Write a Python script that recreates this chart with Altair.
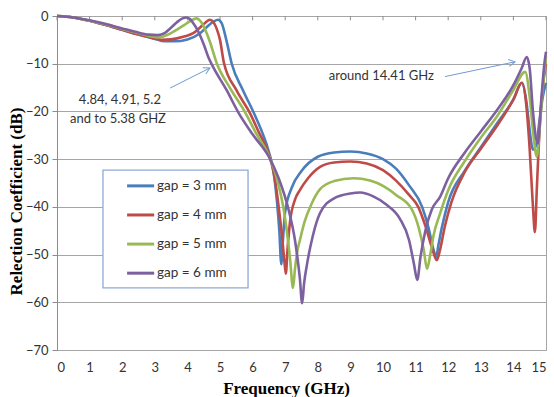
import altair as alt
import pandas as pd

# ---------------- data ----------------
f3 = [0, 0.5, 1.0, 1.5, 2.0, 2.5, 3.0, 3.3, 3.6, 4.0, 4.39, 4.6, 4.8, 4.94, 5.05, 5.2, 5.36, 5.7, 6.05,
      6.3, 6.5, 6.65, 6.75, 6.82, 6.88, 6.93, 7.0, 7.2, 7.5, 8.0, 8.5, 9.0, 9.5, 10.0, 10.4, 10.8, 11.2,
      11.4, 11.55, 11.63, 11.7, 11.8, 12.0, 12.5, 13.0, 13.5, 14.0, 14.26, 14.4, 14.5, 14.6, 14.7, 14.8,
      14.9, 15.0]
v3 = [0, -0.3, -1.0, -1.9, -2.9, -3.9, -4.8, -5.3, -5.3, -4.9, -3.6, -2.3, -1.2, -0.8, -1.5, -5.2, -10.0,
      -15.5, -20.5, -24.5, -28.5, -33, -39, -45, -52, -47, -41, -36, -32.5, -29.5, -28.6, -28.4, -28.8,
      -30, -32, -35.5, -40, -44.5, -49, -50.5, -48, -44.5, -39, -32.5, -27.5, -22.5, -17.5, -14, -18, -24,
      -28, -27, -22, -17, -14]

f4 = [0, 0.5, 1.0, 1.5, 2.0, 2.5, 3.0, 3.2, 3.5, 3.9, 4.18, 4.39, 4.55, 4.69, 4.8, 4.9, 5.0, 5.12, 5.5,
      5.93, 6.2, 6.5, 6.68, 6.8, 6.9, 6.97, 7.02, 7.07, 7.15, 7.3, 7.45, 7.7, 8.07, 8.5, 9.0, 9.5, 10.0,
      10.4, 10.8, 11.08, 11.3, 11.5, 11.65, 11.75, 11.9, 12.1, 12.5, 13.0, 13.5, 14.0, 14.26, 14.4, 14.5,
      14.6, 14.66, 14.72, 14.8, 14.9, 15.0]
v4 = [0, -0.3, -1.0, -1.9, -2.9, -3.9, -4.7, -5.0, -4.9, -4.3, -3.6, -2.4, -1.4, -0.8, -1.3, -2.7, -5.0,
      -9.8, -15.5, -20.5, -24.5, -29, -34, -40, -46, -51, -54, -49, -43, -38.5, -36.5, -34, -31.6, -30.7,
      -30.5, -30.9, -32.3, -34.5, -37.5, -40, -44, -48.5, -51.2, -49, -44, -39, -32.8, -27.8, -23, -17.5,
      -14, -19, -28, -40, -45.3, -36, -24, -15, -10]

f5 = [0, 0.5, 1.0, 1.5, 2.0, 2.5, 2.9, 3.1, 3.47, 3.67, 3.9, 4.1, 4.28, 4.38, 4.48, 4.58, 4.69, 4.9, 5.3,
      5.78, 6.1, 6.5, 6.7, 6.85, 6.94, 7.05, 7.15, 7.24, 7.3, 7.38, 7.45, 7.6, 7.8, 8.07, 8.5, 9.1, 9.6,
      10.0, 10.4, 10.88, 11.1, 11.25, 11.35, 11.45, 11.55, 11.75, 12.0, 12.5, 13.0, 13.5, 14.0, 14.36,
      14.5, 14.6, 14.72, 14.8, 14.9, 15.0]
v5 = [0, -0.3, -1.0, -1.8, -2.7, -3.6, -4.3, -4.5, -3.7, -2.9, -1.9, -1.0, -0.5, -0.9, -1.9, -3.4, -5.4,
      -9.9, -15, -20.3, -24.5, -29.3, -33, -37, -40, -45, -51, -57, -53, -49, -47, -43, -39.5, -36.3,
      -34.6, -34, -34.5, -35.6, -37.5, -40.5, -44.5, -49, -53, -50, -46, -41.4, -36.5, -30.5, -25.5, -21,
      -15.5, -11.7, -17, -24, -29.5, -24, -15, -8.5]

f6 = [0, 0.5, 1.0, 1.5, 2.0, 2.4, 2.8, 3.1, 3.3, 3.47, 3.68, 3.85, 3.96, 4.07, 4.18, 4.3, 4.39, 4.52, 4.64,
      4.8, 5.2, 5.57, 6.0, 6.5, 6.8, 7.1, 7.3, 7.45, 7.52, 7.58, 7.67, 7.85, 8.07, 8.5, 9.0, 9.3, 9.7,
      10.1, 10.52, 10.8, 10.95, 11.05, 11.15, 11.3, 11.5, 11.75, 12.0, 12.5, 13.0, 13.5, 14.0, 14.25,
      14.41, 14.5, 14.6, 14.75, 14.85, 14.95, 15.0]
v6 = [0, -0.3, -0.9, -1.7, -2.6, -3.3, -3.9, -4.0, -3.6, -2.6, -1.3, -0.5, -0.3, -0.6, -1.5, -2.8, -4.1,
      -6.3, -8.6, -10.8, -15.5, -20.3, -24.8, -29.5, -34, -40.5, -47, -55, -60.2, -56, -52, -46, -41.3,
      -38.2, -37.2, -37, -37.8, -39.5, -42.5, -47, -52, -55.3, -50.5, -45, -40.5, -37.9, -34, -28.7, -24.2,
      -19.7, -14.5, -11, -8.6, -11, -20, -26.7, -18, -10, -7.5]

series_names = ["gap = 3 mm", "gap = 4 mm", "gap = 5 mm", "gap = 6 mm"]
series_colors = ["#4a7ebb", "#be4b48", "#98b954", "#7d60a0"]
x_ticks = list(range(0, 16))
y_ticks = list(range(-70, 1, 10))

ann_texts = ["4.84, 4.91, 5.2", "and to 5.38 GHZ", "around 14.41 GHz"]
ann_x = [1.93, 1.87, 9.95]
ann_y = [-17.6, -21.6, -12.6]

# arrows (start -> end, in data units)
arr_x = [3.47, 11.9]
arr_y = [-15.1, -12.7]
arr_x2 = [4.69, 14.05]
arr_y2 = [-10.9, -9.6]
arr_angle = [333, 350]

# legend placement (data units)
leg_box = dict(x=1.41, x2=5.86, y=-32.3, y2=-57.0)
leg_y = [-35.6, -41.7, -47.8, -53.9]
leg_line_x, leg_line_x2, leg_text_x = 2.15, 2.98, 3.07

# top-edge tick marks (pointing into the plot)
top_tick_len = 0.9

# ---------------- build tables ----------------
rows = []
for name, fs, vs in zip(series_names, [f3, f4, f5, f6], [v3, v4, v5, v6]):
    for f, v in zip(fs, vs):
        rows.append({"freq": f, "rc": v, "series": name})
df = pd.DataFrame(rows)

ann_df = pd.DataFrame({"text": ann_texts, "x": ann_x, "y": ann_y})
arr_df = pd.DataFrame({"x": arr_x, "y": arr_y, "x2": arr_x2, "y2": arr_y2, "angle": arr_angle})
box_df = pd.DataFrame([leg_box])
leg_df = pd.DataFrame({"series": series_names, "y": leg_y,
                       "x": [leg_line_x] * 4, "x2": [leg_line_x2] * 4, "tx": [leg_text_x] * 4})
tick_df = pd.DataFrame({"x": x_ticks, "y": [0] * len(x_ticks), "y2": [-top_tick_len] * len(x_ticks)})

xscale = alt.Scale(domain=[0, 15], nice=False)
yscale = alt.Scale(domain=[-70, 0], nice=False)
cscale = alt.Scale(domain=series_names, range=series_colors)

FONT = "Lato"
AXIS_GRAY = "#8c8c8c"
GRID_GRAY = "#a6a6a6"

lines = alt.Chart(df).mark_line(strokeWidth=2.6, interpolate="monotone").encode(
    x=alt.X("freq:Q", scale=xscale, axis=alt.Axis(
        orient="bottom", values=x_ticks, grid=False, domain=False, ticks=False, tickSize=0,
        labelPadding=11, labelFont=FONT, labelFontSize=13, labelColor="#333333",
        title="Frequency (GHz)", titleFont="Liberation Serif", titleFontWeight="bold",
        titleFontSize=17, titleColor="#000000", titleX=229, titleY=43,
        titleAlign="center", titleBaseline="alphabetic")),
    y=alt.Y("rc:Q", scale=yscale, axis=alt.Axis(
        values=y_ticks, grid=True, gridColor=GRID_GRAY, gridWidth=1, domainColor=AXIS_GRAY,
        tickColor=AXIS_GRAY, tickSize=5, labelPadding=4, labelFont=FONT, labelFontSize=13,
        labelColor="#333333", title="Relection Coefficient (dB)", titleFont="Liberation Serif",
        titleFontWeight="bold", titleFontSize=17, titleColor="#000000", titleX=-41, titleY=185,
        titleAngle=270, titleAlign="center", titleBaseline="middle")),
    color=alt.Color("series:N", scale=cscale, legend=None),
)

top_ticks = alt.Chart(tick_df).mark_rule(color=AXIS_GRAY, strokeWidth=1).encode(
    x=alt.X("x:Q", scale=xscale, axis=None),
    y=alt.Y("y:Q", scale=yscale), y2="y2:Q",
)

arrows = alt.Chart(arr_df).mark_rule(color="#6f9bd1", strokeWidth=1).encode(
    x=alt.X("x:Q", scale=xscale, axis=None),
    y=alt.Y("y:Q", scale=yscale), x2="x2:Q", y2="y2:Q",
)

heads = alt.Chart(arr_df).mark_point(
    shape="M-1,-0.55L0,0L-1,0.55", filled=False, size=160, color="#6f9bd1", strokeWidth=1, opacity=1
).encode(
    x=alt.X("x2:Q", scale=xscale, axis=None),
    y=alt.Y("y2:Q", scale=yscale),
    angle=alt.Angle("angle:Q", scale=None),
)

ann = alt.Chart(ann_df).mark_text(font=FONT, fontSize=13, color="#333333", align="center",
                                  baseline="middle").encode(
    x=alt.X("x:Q", scale=xscale, axis=None),
    y=alt.Y("y:Q", scale=yscale),
    text="text:N",
)

box = alt.Chart(box_df).mark_rect(fill="white", stroke="#8eaad8", strokeWidth=1.3).encode(
    x=alt.X("x:Q", scale=xscale, axis=None), x2="x2:Q",
    y=alt.Y("y:Q", scale=yscale), y2="y2:Q",
)

leg_lines = alt.Chart(leg_df).mark_rule(strokeWidth=3).encode(
    x=alt.X("x:Q", scale=xscale, axis=None), x2="x2:Q",
    y=alt.Y("y:Q", scale=yscale),
    color=alt.Color("series:N", scale=cscale, legend=None),
)

leg_text = alt.Chart(leg_df).mark_text(font=FONT, fontSize=13.5, color="#333333", align="left",
                                       baseline="middle").encode(
    x=alt.X("tx:Q", scale=xscale, axis=None),
    y=alt.Y("y:Q", scale=yscale),
    text="series:N",
)

chart = alt.layer(top_ticks, lines, arrows, heads, ann, box, leg_lines, leg_text).resolve_axis(
    x="independent"
).properties(
    width=489, height=334,
    autosize=alt.AutoSizeParams(type="none"),
    padding={"left": 57, "top": 16, "right": 8, "bottom": 47},
    background="white",
).configure_view(stroke=GRID_GRAY, strokeWidth=1)

chart.save("out.html", embed_options={"renderer": "svg", "actions": False})
